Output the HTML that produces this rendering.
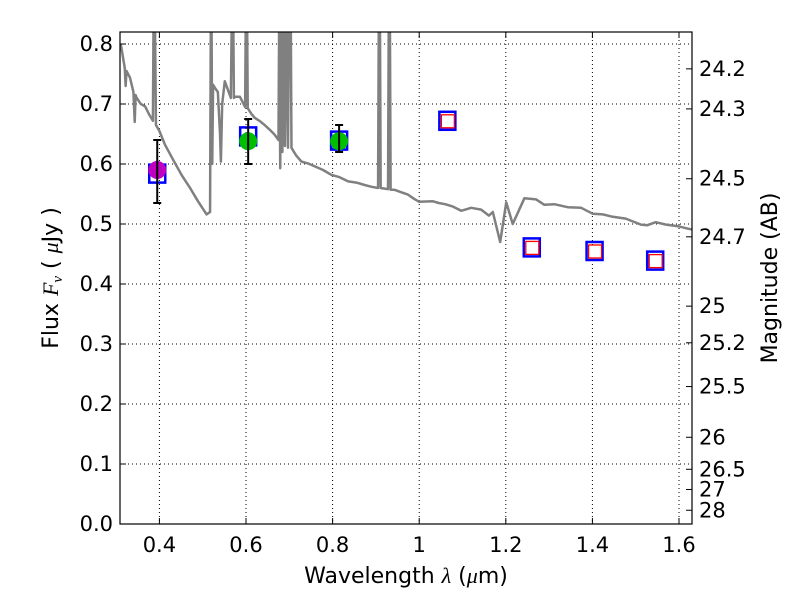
<!DOCTYPE html>
<html><head><meta charset="utf-8"><style>
body{margin:0;background:#fff;}
svg text{font-family:"DejaVu Sans","Liberation Sans",sans-serif;fill:#000;}
</style></head><body>
<svg id="chart" width="800" height="600" viewBox="0 0 800 600" xmlns="http://www.w3.org/2000/svg"></svg>
<script>
const xTicks=[0.4,0.6,0.8,1.0,1.2,1.4,1.6];
const xTickLabels=["0.4","0.6","0.8","1","1.2","1.4","1.6"];
const yTicks=[0,0.1,0.2,0.3,0.4,0.5,0.6,0.7,0.8];
const yTickLabels=["0.0","0.1","0.2","0.3","0.4","0.5","0.6","0.7","0.8"];
const magTicks=[24.2,24.3,24.5,24.7,25,25.2,25.5,26,26.5,27,28];
const magLabels=["24.2","24.3","24.5","24.7","25","25.2","25.5","26","26.5","27","28"];
const specWave=[0.311,0.320,0.322,0.324,0.332,0.340,0.343,0.345,0.347,0.357,0.367,0.376,0.385,0.387,0.389,0.392,0.40,0.413,0.431,0.451,0.470,0.489,0.509,0.517,0.519,0.520,0.522,0.524,0.530,0.535,0.540,0.542,0.545,0.551,0.560,0.565,0.568,0.570,0.572,0.575,0.586,0.598,0.600,0.602,0.604,0.612,0.620,0.631,0.643,0.655,0.666,0.675,0.677,0.679,0.682,0.684,0.688,0.690,0.694,0.697,0.700,0.703,0.705,0.716,0.728,0.743,0.759,0.778,0.797,0.816,0.836,0.855,0.874,0.890,0.905,0.907,0.909,0.911,0.928,0.930,0.932,0.934,0.943,0.958,0.974,0.988,1.0,1.031,1.045,1.060,1.078,1.097,1.12,1.143,1.161,1.17,1.187,1.201,1.216,1.243,1.27,1.289,1.312,1.343,1.374,1.401,1.424,1.447,1.477,1.512,1.527,1.546,1.57,1.6,1.622,1.63];
const specFlux=[0.799,0.760,0.73,0.755,0.744,0.72,0.67,0.715,0.711,0.700,0.696,0.683,0.672,0.9,0.9,0.665,0.655,0.632,0.608,0.582,0.561,0.538,0.516,0.52,0.9,0.9,0.6,0.732,0.725,0.72,0.65,0.604,0.70,0.738,0.72,0.71,0.9,0.9,0.71,0.712,0.712,0.695,0.9,0.9,0.693,0.684,0.677,0.672,0.665,0.657,0.649,0.64,0.9,0.593,0.9,0.62,0.9,0.63,0.9,0.627,0.9,0.9,0.627,0.614,0.604,0.601,0.596,0.590,0.582,0.578,0.571,0.569,0.565,0.562,0.56,0.9,0.9,0.56,0.558,0.9,0.9,0.557,0.557,0.553,0.549,0.542,0.537,0.538,0.535,0.533,0.529,0.522,0.527,0.524,0.514,0.52,0.47,0.536,0.5,0.543,0.541,0.532,0.533,0.528,0.527,0.517,0.516,0.512,0.509,0.499,0.498,0.503,0.499,0.496,0.492,0.491];
const detWave=[0.395,0.605,0.815];
const detFlux=[0.59,0.638,0.638];
const detLo=[0.535,0.600,0.620];
const detHi=[0.640,0.675,0.665];
const detColor=["#bf00bf","#00bf00","#00bf00"];
const modelWave=[0.395,0.605,0.815,1.065,1.26,1.405,1.545];
const modelFlux=[0.584,0.646,0.639,0.672,0.461,0.455,0.439];
const limWave=[1.065,1.26,1.405,1.545];
const limFlux=[0.672,0.461,0.455,0.439];

const L=120,R=692,T=32,B=524, XMIN=0.309,XMAX=1.63,YMIN=0,YMAX=0.82;
const sx=v=>L+(v-XMIN)/(XMAX-XMIN)*(R-L);
const sy=v=>B-(v-YMIN)/(YMAX-YMIN)*(B-T);
const NS="http://www.w3.org/2000/svg";
const svg=document.getElementById('chart');
function mk(tag,attrs,parent){const e=document.createElementNS(NS,tag);for(const k in attrs)e.setAttribute(k,attrs[k]);(parent||svg).appendChild(e);return e;}
const defs=mk('defs',{});const cp=mk('clipPath',{id:'clip'},defs);mk('rect',{x:L,y:T,width:R-L,height:B-T},cp);
xTicks.forEach((t,i)=>{
 const g=mk('line',{x1:sx(t),x2:sx(t),y1:T,y2:B,stroke:'#000','stroke-width':1,'stroke-dasharray':'1,3'});
 
 mk('line',{x1:sx(t),x2:sx(t),y1:B,y2:B-6,stroke:'#000'});mk('line',{x1:sx(t),x2:sx(t),y1:T,y2:T+6,stroke:'#000'});
 const tx=mk('text',{x:sx(t),y:B+28,'font-size':21,'text-anchor':'middle'});tx.textContent=xTickLabels[i];
 
});
yTicks.forEach((t,i)=>{
 const g=mk('line',{x1:L,x2:R,y1:sy(t),y2:sy(t),stroke:'#000','stroke-width':1,'stroke-dasharray':'1,3'});
 
 mk('line',{x1:L,x2:L+6,y1:sy(t),y2:sy(t),stroke:'#000'});
 const tx=mk('text',{x:L-7,y:sy(t)+7,'font-size':21,'text-anchor':'end'});tx.textContent=yTickLabels[i];
 
});
magTicks.forEach((m,i)=>{
 const f=Math.pow(10,(23.9-m)/2.5);const y=sy(f);
 mk('line',{x1:R,x2:R-6,y1:y,y2:y,stroke:'#000'});
 const tx=mk('text',{x:R+7,y:y+7,'font-size':21});tx.textContent=magLabels[i];
 
});
const sp=mk('polyline',{points:specWave.map((w,i)=>sx(w)+','+sy(specFlux[i])).join(' '),fill:'none',stroke:'#808080','stroke-width':2.5,'clip-path':'url(#clip)','stroke-linejoin':'round'});

modelWave.forEach((w,i)=>{
 const r=mk('rect',{x:sx(w)-8,y:sy(modelFlux[i])-9,width:16,height:18,fill:'none',stroke:'#0000ff','stroke-width':2.5});
 
});
limWave.forEach((w,i)=>{
 const r=mk('rect',{x:sx(w)-6,y:sy(limFlux[i])-6,width:13,height:13,fill:'#fff',stroke:'#ff0000','stroke-width':1.3});
 
});
detWave.forEach((w,i)=>{
 const c=mk('circle',{cx:sx(w),cy:sy(detFlux[i]),r:9,fill:detColor[i]});
 
 const x=sx(w);
 const e=mk('line',{x1:x,x2:x,y1:sy(detLo[i]),y2:sy(detHi[i]),stroke:'#000','stroke-width':2});
 
 mk('line',{x1:x-4,x2:x+4,y1:sy(detLo[i]),y2:sy(detLo[i]),stroke:'#000','stroke-width':2});
 mk('line',{x1:x-4,x2:x+4,y1:sy(detHi[i]),y2:sy(detHi[i]),stroke:'#000','stroke-width':2});
});
const fr=mk('rect',{x:L,y:T,width:R-L,height:B-T,fill:'none',stroke:'#000','stroke-width':1.2});

</script>
<svg style="position:absolute;left:0;top:0" width="800" height="600">
<text x="406" y="583" font-size="22" text-anchor="middle">Wavelength  <tspan font-style="italic" font-family="Liberation Serif">λ</tspan> (<tspan font-style="italic" font-family="Liberation Serif">μ</tspan>m)</text>
<text transform="translate(58,278) rotate(-90)" font-size="22" text-anchor="middle">Flux  <tspan font-style="italic" font-family="Liberation Serif">F</tspan><tspan font-style="italic" font-family="Liberation Serif" font-size="15" dy="4">ν</tspan><tspan dy="-4">  ( </tspan><tspan font-style="italic" font-family="Liberation Serif">μ</tspan>Jy )</text>
<text transform="translate(777,278) rotate(-90)" font-size="22" text-anchor="middle">Magnitude (AB)</text>
</svg>
</body></html>
